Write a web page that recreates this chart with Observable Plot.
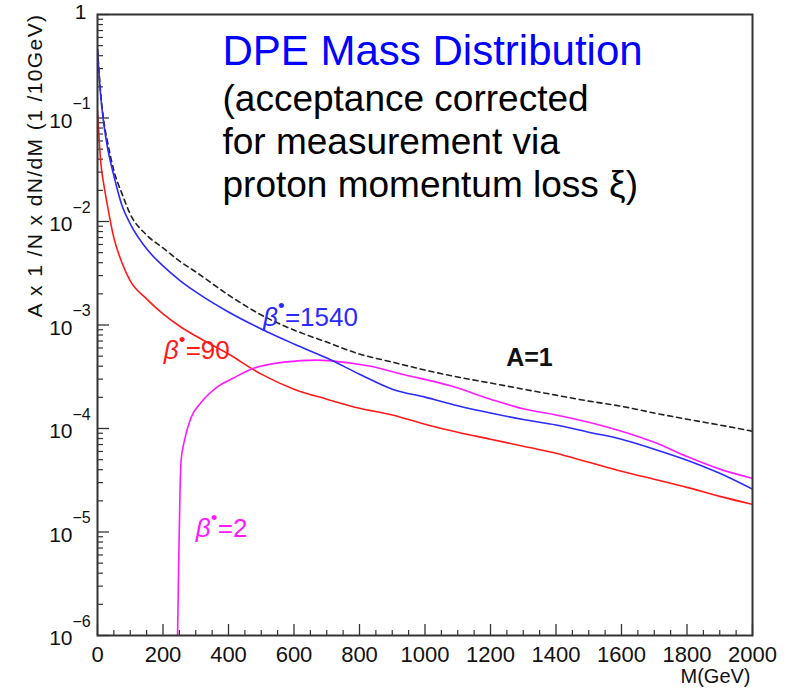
<!DOCTYPE html>
<html><head><meta charset="utf-8">
<script src="https://cdn.jsdelivr.net/npm/d3@7"></script>
<script src="https://cdn.jsdelivr.net/npm/@observablehq/plot@0.6"></script>
<style>body{margin:0;background:#fff}</style>
</head><body><div id="chart"></div>
<script>
// ---- data ----
const massGeV = [0,10,20,30,50,75,100,150,200,250,300,400,500,600,700,800,900,1000,1100,1200,1300,1400,1500,1600,1700,1800,1900,2000];
const acceptanceOne = [0.46,0.17,0.09,0.06,0.031,0.0185,0.0118,0.0074,0.00555,0.00416,0.00326,0.00195,0.00125,0.000894,0.000684,0.000524,0.000438,0.000367,0.000314,0.000275,0.00024,0.00021,0.000184,0.000164,0.000141,0.000123,0.000108,0.0000942];
const beta1540 = [0.458,0.16,0.0843,0.0528,0.0277,0.0142,0.00949,0.00544,0.00372,0.00272,0.00209,0.001335,0.000915,0.000655,0.000479,0.000335,0.00024,0.000201,0.000166,0.000141,0.000122,0.000108,0.0000921,0.0000788,0.0000631,0.0000494,0.0000369,0.0000259];
const beta90 = [0.1178,0.037,0.0221,0.0145,0.00695,0.00398,0.00267,0.00179,0.00128,0.000978,0.000782,0.000524,0.000335,0.00024,0.000192,0.000157,0.000135,0.00011,0.0000921,0.0000788,0.0000674,0.0000577,0.0000472,0.0000386,0.0000323,0.000027,0.0000221,0.0000185];
const beta2Mass = [244,248,252,255,265,285,315,365,415,470,570,670,720,830,930,1080,1200,1300,1400,1500,1600,1700,1800,1900,2000];
const beta2 = [8e-7,5.2e-6,2.47e-5,4.83e-5,7.54e-5,0.000126,0.000176,0.000251,0.000307,0.000375,0.000438,0.000458,0.000448,0.000401,0.000335,0.000257,0.000192,0.000155,0.000135,0.000115,0.0000942,0.0000735,0.0000535,0.0000405,0.000033];

const xMajorTicks = [0,200,400,600,800,1000,1200,1400,1600,1800,2000];
const xMinorTicks = [50,100,150,250,300,350,450,500,550,650,700,750,850,900,950,1050,1100,1150,1250,1300,1350,1450,1500,1550,1650,1700,1750,1850,1900,1950];
const yDecades = [1e-6,1e-5,1e-4,1e-3,1e-2,1e-1,1];
const yExponentLabels = ["−6","−5","−4","−3","−2","−1"];
const yMinorMultipliers = [2,3,4,5,6,7,8,9];

const titleText = "DPE Mass Distribution";
const subtitleLines = ["(acceptance corrected", "for measurement via", "proton momentum loss ξ)"];
const yAxisTitle = "A x 1 /N x dN/dM (1 /10GeV)";
const xAxisTitle = "M(GeV)";

const curveLabels = [
  {x: 505, y: 0.00119, value: "=1540", color: "#2a2aff"},
  {x: 202, y: 0.00056, value: "=90", color: "#ff1a1a"},
  {x: 300, y: 1.08e-5, value: "=2", color: "#ff1aff"}
];
const aLabel = {x: 1248, y: 4.8e-4, text: "A=1"};

// ---- layout ----
const W = 795, H = 689, mL = 97, mR = 43, mT = 14, mB = 54;
const plotW = W - mL - mR, plotH = H - mT - mB;
const font = "'Liberation Sans', Arial, Helvetica, sans-serif";
const axisColor = "#333";

const rows = (xs, ys) => xs.map((x, i) => ({x, y: ys[i]}));
const yMinorTicks = yDecades.slice(0, -1).flatMap(d => yMinorMultipliers.map(m => m * d));
const yLabelRows = yDecades.slice(0, -1).map((v, i) => ({v, exp: yExponentLabels[i]}));

const lineOpts = {x: "x", y: "y", strokeWidth: 1.6, curve: "monotone-x", clip: true};

const marks = [
  Plot.tickX(xMajorTicks, {x: d => d, insetTop: plotH - 11, stroke: axisColor, strokeWidth: 1.3}),
  Plot.tickX(xMinorTicks, {x: d => d, insetTop: plotH - 5, stroke: axisColor, strokeWidth: 1.2}),
  Plot.tickY(yDecades, {y: d => d, insetRight: plotW - 12, stroke: axisColor, strokeWidth: 1.3}),
  Plot.tickY(yMinorTicks, {y: d => d, insetRight: plotW - 6, stroke: axisColor, strokeWidth: 1.2}),
  Plot.line(rows(massGeV, acceptanceOne), {...lineOpts, stroke: "#222", strokeDasharray: "5,4"}),
  Plot.line(rows(massGeV, beta90), {...lineOpts, stroke: "#ff1a1a"}),
  Plot.line(rows(beta2Mass, beta2), {...lineOpts, stroke: "#ff1aff"}),
  Plot.line(rows(massGeV, beta1540), {...lineOpts, stroke: "#2a2aff"}),
  Plot.frame({stroke: axisColor, strokeWidth: 2}),

  // x tick labels
  Plot.text(xMajorTicks, {x: d => d, frameAnchor: "bottom", text: d => String(d), dy: 11, lineAnchor: "top", fontSize: 22, fill: "#111"}),
  // y tick labels
  Plot.text(yLabelRows, {y: "v", frameAnchor: "left", text: () => "10", textAnchor: "end", dx: -25, dy: 3, fontSize: 21, fill: "#111"}),
  Plot.text(yLabelRows, {y: "v", frameAnchor: "left", text: "exp", textAnchor: "start", dx: -25, dy: -14, fontSize: 16, fill: "#111"}),
  Plot.text([1], {y: d => d, frameAnchor: "left", text: () => "1", textAnchor: "end", dx: -11, dy: -2, fontSize: 21, fill: "#111"}),
  // axis titles
  Plot.text([yAxisTitle], {frameAnchor: "left", text: d => d, dx: -62, dy: 165 - (mT + plotH / 2), rotate: -90, textAnchor: "middle", fontSize: 21, fill: "#111"}),
  Plot.text([xAxisTitle], {frameAnchor: "bottom-right", text: d => d, dx: -2, dy: 47, textAnchor: "end", fontSize: 20, fill: "#111"}),
  // title block
  Plot.text([titleText], {frameAnchor: "top-left", text: d => d, dx: 125, dy: 50, textAnchor: "start", lineAnchor: "bottom", fontSize: 42, fill: "#0000ff"}),
  ...subtitleLines.map((line, i) => Plot.text([line], {frameAnchor: "top-left", text: d => d, dx: 125, dy: 96 + i * 43, textAnchor: "start", lineAnchor: "bottom", fontSize: 37, fill: "#000"})),
  // curve labels
  Plot.text(curveLabels, {x: "x", y: "y", text: () => "β", textAnchor: "start", fontSize: 26, fontStyle: "italic", fill: "color"}),
  Plot.text(curveLabels, {x: "x", y: "y", text: () => "•", textAnchor: "start", dx: 15, dy: -11, fontSize: 19, fill: "color"}),
  Plot.text(curveLabels, {x: "x", y: "y", text: "value", textAnchor: "start", dx: 22, fontSize: 26, fill: "color"}),
  Plot.text([aLabel], {x: "x", y: "y", text: "text", textAnchor: "start", fontSize: 25, fontWeight: 600, fill: "#111"})
];

const chart = Plot.plot({
  width: W, height: H,
  marginLeft: mL, marginRight: mR, marginTop: mT, marginBottom: mB,
  x: {domain: [0, 2000], axis: null},
  y: {type: "log", domain: [1e-6, 1], axis: null},
  color: {type: "identity"},
  style: {fontFamily: font, background: "#fff", overflow: "visible"},
  marks
});
document.getElementById("chart").appendChild(chart);
d3.select(chart).selectAll("text").filter(function() { return this.textContent === yAxisTitle; })
  .attr("letter-spacing", "1.4px");
</script>
</body></html>
